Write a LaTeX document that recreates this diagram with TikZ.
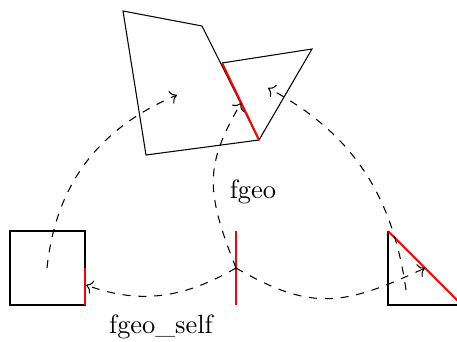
\documentclass[tikz,border=0pt]{standalone}
\usepackage{tikz}
\usetikzlibrary{arrows.meta}
\tikzset{outline/.style={draw=black},edge/.style={draw=red,thick},mapto/.style={->,dashed}}
\begin{document}
\begin{tikzpicture}[x=0.0133cm,y=-0.0133cm]
\useasboundingbox (0,0) rectangle (457,341);
\clip (0,0) rectangle (457,341);
% faces
\draw[outline] (123,11)--(202,26)--(259,140)--(146,155)--cycle;
\draw[outline] (222,63)--(312,49)--(259,140);
\draw[outline] (10,231) rectangle (85,305);
\draw[outline] (388,231)--(388,305)--(462,305);
% glued edges
\draw[edge] (222,63)--(259,140);
\draw[edge] (85,268)--(85,305);
\draw[edge] (236,231)--(236,305);
\draw[edge] (388,231)--(462,305);
% end points of the maps
\coordinate (sq) at (47,268);
\coordinate (mid) at (236,268);
\coordinate (tri) at (406,290);
\coordinate (quadin) at (177,95);
\coordinate (cutin) at (241,103);
\coordinate (wingin) at (268,88);
\coordinate (sqin) at (86,285);
\coordinate (triin) at (425,268);
\draw[mapto] (sq) to[out=84,in=203] (quadin);
\draw[mapto] (mid) .. controls (205,190) and (205,165) .. (cutin);
\draw[mapto] (tri) to[out=98,in=-28] (wingin);
\draw[mapto] (mid) to[out=-150,in=-20] (sqin);
\draw[mapto] (mid) to[out=-30,in=205,looseness=1.2] (triin);
\node (geo) at (253,192) {fgeo};
\node (self) at (161,327) {fgeo\_self};
\end{tikzpicture}
\end{document}
